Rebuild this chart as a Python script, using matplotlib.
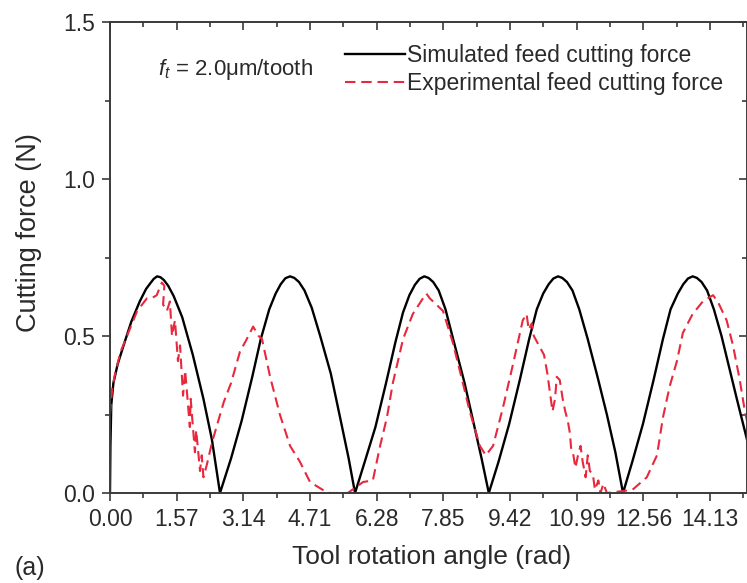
import matplotlib
matplotlib.use("Agg")
import matplotlib.pyplot as plt

plt.rcParams['font.family'] = ['Liberation Sans', 'DejaVu Sans']
plt.rcParams['mathtext.fontset'] = 'custom'
plt.rcParams['mathtext.it'] = 'Liberation Sans:italic'
plt.rcParams['mathtext.rm'] = 'Liberation Sans'

# ---- data ----
sim_x = [0.00, 0.01, 0.03, 0.08, 0.18, 0.32, 0.50, 0.70, 0.85, 0.95, 1.03, 1.11, 1.19, 1.27, 1.37, 1.50, 1.70, 1.95, 2.20, 2.40, 2.59,
         2.85, 3.10, 3.35, 3.55, 3.75, 3.90, 4.02, 4.13, 4.24, 4.34, 4.45, 4.58, 4.75, 4.95, 5.20, 5.45, 5.62, 5.77,
         6.00, 6.25, 6.50, 6.72, 6.90, 7.05, 7.18, 7.29, 7.40, 7.50, 7.61, 7.74, 7.90, 8.10, 8.35, 8.60, 8.75, 8.92,
         9.15, 9.40, 9.65, 9.87, 10.05, 10.20, 10.33, 10.44, 10.55, 10.65, 10.76, 10.89, 11.05, 11.25, 11.48, 11.70, 11.90, 12.08,
         12.30, 12.55, 12.80, 13.02, 13.20, 13.37, 13.50, 13.61, 13.72, 13.82, 13.93, 14.06, 14.22, 14.40, 14.58, 14.76, 15.00, 15.25]
sim_y = [0.00, 0.15, 0.28, 0.35, 0.41, 0.47, 0.545, 0.61, 0.65, 0.668, 0.682, 0.69, 0.687, 0.678, 0.66, 0.627, 0.560, 0.44, 0.30, 0.17, 0.00,
         0.11, 0.23, 0.37, 0.49, 0.585, 0.635, 0.665, 0.684, 0.69, 0.685, 0.672, 0.645, 0.59, 0.50, 0.38, 0.22, 0.11, 0.00,
         0.10, 0.21, 0.35, 0.48, 0.575, 0.63, 0.663, 0.682, 0.69, 0.685, 0.672, 0.645, 0.585, 0.48, 0.35, 0.20, 0.11, 0.00,
         0.10, 0.22, 0.36, 0.49, 0.585, 0.635, 0.665, 0.683, 0.69, 0.685, 0.672, 0.645, 0.585, 0.49, 0.37, 0.25, 0.13, 0.00,
         0.10, 0.22, 0.36, 0.49, 0.585, 0.635, 0.665, 0.683, 0.69, 0.685, 0.672, 0.645, 0.585, 0.50, 0.40, 0.30, 0.17, 0.00]

exp_x = [0.00, 0.05, 0.12, 0.25, 0.40, 0.64, 0.87, 0.98, 1.10, 1.22, 1.28,
         1.25, 1.34, 1.41, 1.46, 1.53, 1.60, 1.65, 1.72, 1.77, 1.88, 1.90, 2.00, 2.03, 2.12, 2.16, 2.20, 2.28,
         2.40, 2.55, 2.68, 2.85, 3.06, 3.22, 3.37, 3.50, 3.58,
         3.77, 4.00, 4.24, 4.47, 4.71, 5.01, 5.18, 5.60, 5.96, 6.19, 6.36, 6.52, 6.66, 6.78, 6.90, 7.13,
         7.37, 7.45, 7.53, 7.84, 8.07, 8.31, 8.47, 8.71, 8.85, 9.02, 9.25, 9.49, 9.72, 9.81,
         9.86, 9.93, 9.98, 10.10, 10.22, 10.30, 10.36, 10.42, 10.48, 10.52, 10.59, 10.66, 10.72, 10.78,
         10.83, 10.86, 10.90, 10.96, 11.02, 11.08, 11.13, 11.20, 11.25, 11.30, 11.37, 11.42, 11.50, 11.55,
         11.62, 11.70, 12.30, 12.64, 12.88, 13.02,
         13.18, 13.35, 13.49, 13.72, 13.96, 14.20, 14.31, 14.52, 14.67, 14.83, 14.95, 15.05]
exp_y = [0.25, 0.33, 0.38, 0.45, 0.50, 0.58, 0.62, 0.62, 0.63, 0.67, 0.66,
         0.60, 0.58, 0.61, 0.50, 0.55, 0.42, 0.47, 0.31, 0.39, 0.21, 0.30, 0.13, 0.20, 0.07, 0.12, 0.05, 0.09,
         0.16, 0.23, 0.29, 0.35, 0.45, 0.49, 0.53, 0.50, 0.49,
         0.37, 0.25, 0.15, 0.10, 0.035, 0.01, 0.00, 0.00, 0.035, 0.04, 0.15, 0.24, 0.35, 0.42, 0.49, 0.57,
         0.62, 0.635, 0.62, 0.58, 0.48, 0.35, 0.26, 0.15, 0.12, 0.15, 0.27, 0.41, 0.55, 0.57,
         0.52, 0.54, 0.50, 0.47, 0.44, 0.38, 0.32, 0.26, 0.30, 0.37, 0.36, 0.30, 0.26, 0.23,
         0.19, 0.14, 0.13, 0.08, 0.12, 0.15, 0.10, 0.05, 0.12, 0.07, 0.06, 0.01, 0.04, 0.00,
         0.03, 0.00, 0.01, 0.05, 0.12, 0.24,
         0.34, 0.42, 0.51, 0.57, 0.61, 0.63, 0.61, 0.55, 0.47, 0.36, 0.26, 0.20]

xticks = [0.00, 1.57, 3.14, 4.71, 6.28, 7.85, 9.42, 10.99, 12.56, 14.13]
xtick_labels = ["0.00", "1.57", "3.14", "4.71", "6.28", "7.85", "9.42", "10.99", "12.56", "14.13"]
yticks = [0.0, 0.5, 1.0, 1.5]
ytick_labels = ["0.0", "0.5", "1.0", "1.5"]
x_minor = [0.785, 2.355, 3.925, 5.495, 7.065, 8.635, 10.205, 11.775, 13.345, 14.915]
y_minor = [0.25, 0.75, 1.25]

W, H = 747, 583
fig = plt.figure(figsize=(W / 100, H / 100), dpi=100)
ax = fig.add_axes([110 / W, 1 - 493 / H, (747 - 110) / W, (493 - 22) / H])

spine_c = '#3a3a3a'
text_c = '#2a2a2a'
ax.plot(sim_x, sim_y, color='black', lw=1.7, label='Simulated feed cutting force',
        solid_joinstyle='round')
ax.plot(exp_x, exp_y, color='#e8283c', lw=1.5, linestyle=(0, (5, 2.8)),
        label='Experimental feed cutting force')

ax.set_xlim(0, 15.0)
ax.set_ylim(0, 1.5)
ax.set_xticks(xticks)
ax.set_xticklabels(xtick_labels)
ax.set_yticks(yticks)
ax.set_yticklabels(ytick_labels)
ax.set_xticks(x_minor, minor=True)
ax.set_yticks(y_minor, minor=True)
ax.tick_params(which='major', direction='out', length=6, width=1.2, colors=spine_c,
               labelsize=16.5, labelcolor=text_c, pad=5)
ax.tick_params(which='minor', direction='out', length=3.5, width=1.2, colors=spine_c)
for s in ax.spines.values():
    s.set_linewidth(1.4)
    s.set_color(spine_c)

# mirrored inward ticks on top and right
axt = ax.secondary_xaxis('top')
axt.set_xticks(xticks)
axt.set_xticks(x_minor, minor=True)
axt.tick_params(which='major', direction='in', length=6, width=1.2, colors=spine_c, labeltop=False)
axt.tick_params(which='minor', direction='in', length=3.5, width=1.2, colors=spine_c)
axt.spines['top'].set_visible(False)
axr = ax.secondary_yaxis('right')
axr.set_yticks(yticks)
axr.set_yticks(y_minor, minor=True)
axr.tick_params(which='major', direction='in', length=6, width=1.2, colors=spine_c, labelright=False)
axr.tick_params(which='minor', direction='in', length=3.5, width=1.2, colors=spine_c)
axr.spines['right'].set_visible(False)

ax.set_xlabel('Tool rotation angle (rad)', fontsize=19, color=text_c)
ax.xaxis.set_label_coords((432 - 110) / (747 - 110), -(557 - 493) / (493 - 22))
ax.xaxis.label.set_va('center')
ax.set_ylabel('Cutting force (N)', fontsize=19.5, color=text_c)
ax.yaxis.set_label_coords(-(110 - 29) / (747 - 110), (493 - 233) / (493 - 22))
ax.yaxis.label.set_va('center')

ax.text(158 / W, 1 - 69 / H, r'$f_t$ = 2.0μm/tooth', transform=fig.transFigure,
        fontsize=16, color=text_c, va='center', ha='left')

leg = ax.legend(loc='upper left', bbox_to_anchor=(345 / W, 1 - 44 / H), bbox_transform=fig.transFigure,
                frameon=False, fontsize=16.5, handlelength=2.6, handletextpad=0.1,
                labelspacing=0.2, borderpad=0, borderaxespad=0)
for t in leg.get_texts():
    t.set_color(text_c)

fig.text(15 / W, 1 - 568 / H, '(a)', fontsize=18, color=text_c, va='center', ha='left')

fig.savefig('out.png', dpi=100)
